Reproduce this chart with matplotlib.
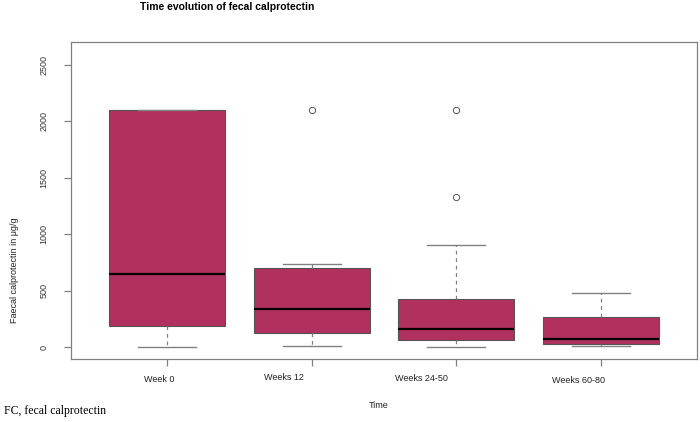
"""Boxplot of fecal calprotectin over time."""
import matplotlib
matplotlib.use("Agg")
import matplotlib.pyplot as plt

plt.rcParams["font.family"] = ["Liberation Sans", "DejaVu Sans"]

groups = ["Week 0", "Weeks 12", "Weeks 24-50", "Weeks 60-80"]
whislo = [5, 10, 5, 15]
q1 = [185, 130, 60, 25]
med = [645, 335, 165, 70]
q3 = [2100, 705, 425, 265]
whishi = [2100, 740, 910, 485]
fliers = [[], [2100], [2100, 1330], []]

# label offsets (the labels sit slightly off the ticks in this figure)
label_dx = [-0.051, -0.193, -0.245, -0.16]
label_dy = [21, 18.7, 19.3, 21.3]

BOX = "#b03060"
GRAY = "#808080"

fig = plt.figure(figsize=(7, 4.22), dpi=100)
ax = fig.add_axes([71 / 700, 1 - 359 / 422, (697 - 71) / 700, (359 - 42) / 422])

stats = []
for i, g in enumerate(groups):
    stats.append(dict(label=g, whislo=whislo[i], q1=q1[i], med=med[i],
                      q3=q3[i], whishi=whishi[i], fliers=fliers[i]))

pos = list(range(1, len(groups) + 1))
ax.bxp(stats, positions=pos, widths=0.8, patch_artist=True, showfliers=True,
       boxprops=dict(facecolor=BOX, edgecolor="#555555", linewidth=0.8),
       medianprops=dict(color="black", linewidth=1.6),
       whiskerprops=dict(color=GRAY, linestyle=(0, (3, 3)), linewidth=0.9),
       capprops=dict(color=GRAY, linewidth=1.0),
       capwidths=0.4,
       flierprops=dict(marker="o", markerfacecolor="none", markeredgecolor="#555555",
                       markersize=4.5, markeredgewidth=0.7))

ax.set_xlim(0.34, 4.66)
ax.set_ylim(-104, 2704)
ax.set_yticks([0, 500, 1000, 1500, 2000, 2500])
ax.set_yticklabels(["0", "500", "1000", "1500", "2000", "2500"], rotation=90,
                   va="center", fontsize=6.5, color="#333333")
ax.set_xticks(pos)
ax.set_xticklabels([])
ax.tick_params(axis="both", length=5, color=GRAY, width=0.9)
ax.tick_params(axis="y", pad=11)
for s in ax.spines.values():
    s.set_color(GRAY)
    s.set_linewidth(0.9)

for i, g in enumerate(groups):
    ax.annotate(g, xy=(pos[i] + label_dx[i], 0), xycoords=("data", "axes fraction"),
                xytext=(0, -label_dy[i]), textcoords="offset pixels",
                ha="center", va="center", fontsize=6.5, color="#222222")

fig.text(227 / 700, 1 - 7 / 422, "Time evolution of fecal calprotectin",
         ha="center", va="center", fontsize=7.5, fontweight="bold")
fig.text(379 / 700, 1 - 405 / 422, "Time", ha="center", va="center",
         fontsize=6.5, color="#222222")
fig.text(15 / 700, 1 - 270 / 422, "Faecal calprotectin in \u03bcg/g", rotation=90,
         ha="center", va="center", fontsize=6.5, color="#222222")
fig.text(4 / 700, 1 - 411 / 422, "FC, fecal calprotectin", ha="left", va="center",
         fontsize=8.5, family="Liberation Serif")

fig.savefig("out.png")
